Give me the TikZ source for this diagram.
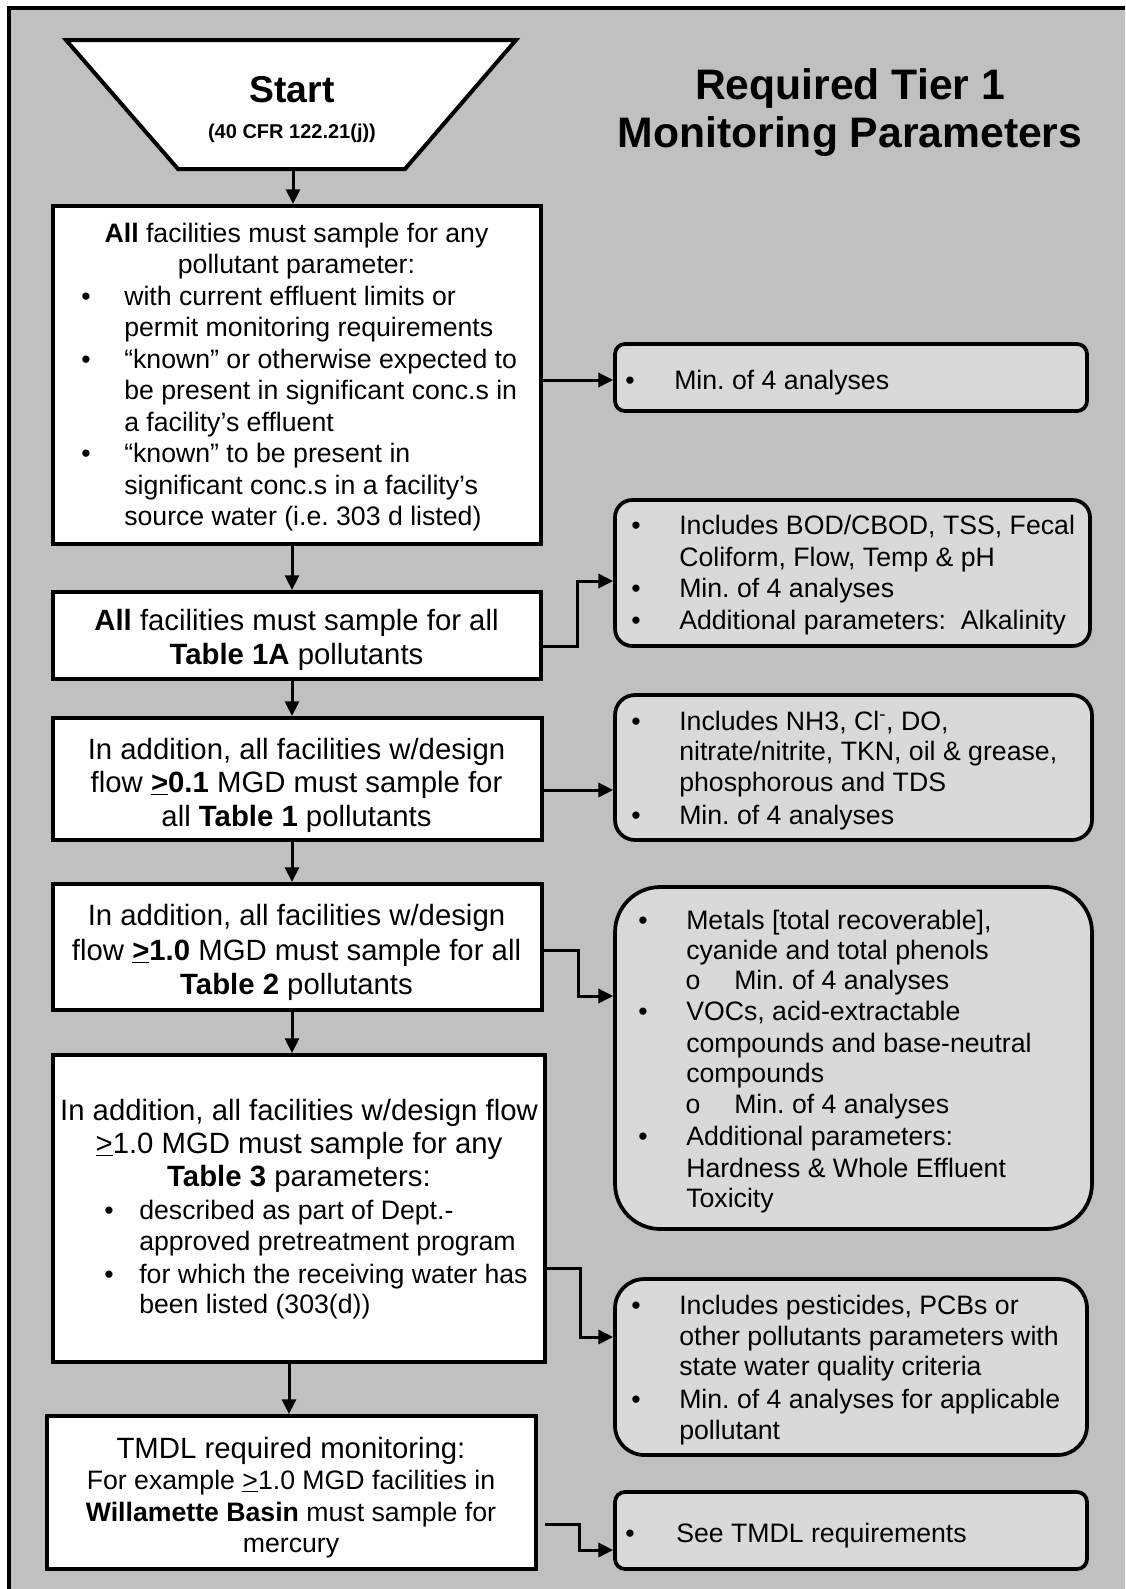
\documentclass[tikz,border=0pt]{standalone}
\usepackage{fontspec}
\setmainfont{Liberation Sans}
\usetikzlibrary{arrows.meta,fit}
\definecolor{panelgray}{RGB}{192,192,192}
\definecolor{notegray}{RGB}{217,217,217}
\frenchspacing
\tikzset{
  stepbox/.style={draw, line width=3pt, fill=white, inner sep=0pt},
  notebox/.style={draw, line width=2.8pt, fill=notegray, inner sep=0pt, rounded corners=#1},
  notebox/.default=7.5pt,
  flow/.style={line width=2.25pt, -{Triangle[length=11pt,width=10.5pt]}},
  body/.style={inner sep=0pt, font=\fontsize{20}{24}\selectfont},
  big/.style={inner sep=0pt, font=\fontsize{22}{26}\selectfont},
}
\begin{document}
\begin{tikzpicture}[x=0.75pt,y=-0.75pt]
\clip (0,0) rectangle (1125,1589);
% outer panel
\draw[line width=3pt, fill=panelgray] (9,8) rectangle (1160,1620);

% title
\node[inner sep=0pt, font=\fontsize{32}{38}\selectfont\bfseries, anchor=base] (title1) at (850,99) {Required Tier 1};
\node[inner sep=0pt, font=\fontsize{32}{38}\selectfont\bfseries, anchor=base] (title2) at (850,147) {Monitoring Parameters};

% start trapezoid
\draw[line width=3pt, fill=white, line join=miter] (66,40) -- (516,40) -- (405,169) -- (178,169) -- cycle;
\coordinate (startbot) at (293,169);
\node[inner sep=0pt, font=\fontsize{28}{32}\selectfont\bfseries, anchor=base] (starttxt) at (292,102) {Start};
\node[inner sep=0pt, font=\fontsize{15}{18}\selectfont\bfseries, anchor=base] (cfrtxt) at (292,138) {(40 CFR 122.21(j))};

% left column boxes
\node[stepbox, fit={(53,206) (541,544)}] (b1) {};
\node[stepbox, fit={(53,592) (541,679)}] (b2) {};
\node[stepbox, fit={(53,718) (542,840)}] (b3) {};
\node[stepbox, fit={(53,884) (542,1010)}] (b4) {};
\node[stepbox, fit={(53,1055) (545,1362)}] (b5) {};
\node[stepbox, fit={(47,1416) (536,1569)}] (b6) {};

% right column notes
\node[notebox, fit={(615,344) (1087,411)}] (r1) {};
\node[notebox=13pt, fit={(615,500) (1090,646)}] (r2) {};
\node[notebox=15pt, fit={(615,695) (1092,840)}] (r3) {};
\node[notebox=34pt, fit={(615,887) (1092,1229)}] (r4) {};
\node[notebox=22pt, fit={(615,1279) (1087,1455)}] (r5) {};
\node[notebox, fit={(615,1492) (1087,1569)}] (r6) {};

% box 1 text
\node[body, anchor=base] (t1a) at (296.5,242) {\textbf{All} facilities must sample for any};
\node[body, anchor=base] (t1b) at (296.5,273.5) {pollutant parameter:};
\node[body, anchor=base] (t1c0) at (86,305) {•};
\node[body, anchor=base west] (t1c) at (124,305) {with current effluent limits or};
\node[body, anchor=base west] (t1d) at (124,336.5) {permit monitoring requirements};
\node[body, anchor=base] (t1e0) at (86,368) {•};
\node[body, anchor=base west] (t1e) at (124,368) {“known” or otherwise expected to};
\node[body, anchor=base west] (t1f) at (124,399.5) {be present in significant conc.s in};
\node[body, anchor=base west] (t1g) at (124,431) {a facility’s effluent};
\node[body, anchor=base] (t1h0) at (86,462.5) {•};
\node[body, anchor=base west] (t1h) at (124,462.5) {“known” to be present in};
\node[body, anchor=base west] (t1i) at (124,494) {significant conc.s in a facility’s};
\node[body, anchor=base west] (t1j) at (124,525.5) {source water (i.e. 303 d listed)};

% box 2 text
\node[big, anchor=base] (t2a) at (296.5,630) {\textbf{All} facilities must sample for all};
\node[big, anchor=base] (t2b) at (296.5,664) {\textbf{Table 1A} pollutants};

% box 3 text
\node[big, anchor=base] (t3a) at (296.5,759.5) {In addition, all facilities w/design};
\node[big, anchor=base] (t3b) at (296.5,792.5) {flow \textbf{\underline{>}0.1} MGD must sample for};
\node[big, anchor=base] (t3c) at (296.5,826.5) {all \textbf{Table 1} pollutants};

% box 4 text
\node[big, anchor=base] (t4a) at (296.5,925.5) {In addition, all facilities w/design};
\node[big, anchor=base] (t4b) at (296.5,960.5) {flow \textbf{\underline{>}1.0} MGD must sample for all};
\node[big, anchor=base] (t4c) at (296.5,994.5) {\textbf{Table 2} pollutants};

% box 5 text
\node[big, anchor=base] (t5a) at (299,1120) {In addition, all facilities w/design flow};
\node[big, anchor=base] (t5b) at (299,1153) {\underline{>}1.0 MGD must sample for any};
\node[big, anchor=base] (t5c) at (299,1186) {\textbf{Table 3} parameters:};
\node[body, anchor=base] (t5d0) at (109,1219) {•};
\node[body, anchor=base west] (t5d) at (139,1219) {described as part of Dept.-};
\node[body, anchor=base west] (t5e) at (139,1250) {approved pretreatment program};
\node[body, anchor=base] (t5f0) at (109,1283) {•};
\node[body, anchor=base west] (t5f) at (139,1283) {for which the receiving water has};
\node[body, anchor=base west] (t5g) at (139,1313) {been listed (303(d))};

% box 6 text
\node[big, anchor=base] (t6a) at (291,1458) {TMDL required monitoring:};
\node[body, anchor=base] (t6b) at (291,1489.5) {For example \underline{>}1.0 MGD facilities in};
\node[body, anchor=base] (t6c) at (291,1521.5) {\textbf{Willamette Basin} must sample for};
\node[body, anchor=base] (t6d) at (291,1552.5) {mercury};

% note 1
\node[body, anchor=base] (n1a0) at (630,389) {•};
\node[body, anchor=base west] (n1a) at (674,389) {Min. of 4 analyses};

% note 2
\node[body, anchor=base] (n2a0) at (636,534.5) {•};
\node[body, anchor=base west] (n2a) at (679,534.5) {Includes BOD/CBOD, TSS, Fecal};
\node[body, anchor=base west] (n2b) at (679,566) {Coliform, Flow, Temp \& pH};
\node[body, anchor=base] (n2c0) at (636,597.5) {•};
\node[body, anchor=base west] (n2c) at (679,597.5) {Min. of 4 analyses};
\node[body, anchor=base] (n2d0) at (636,629.5) {•};
\node[body, anchor=base west] (n2d) at (679,629.5) {Additional parameters:\ \ Alkalinity};

% note 3
\node[body, anchor=base] (n3a0) at (636,730.5) {•};
\node[body, anchor=base west] (n3a) at (679,730.5) {Includes NH3, Cl\textsuperscript{-}, DO,};
\node[body, anchor=base west] (n3b) at (679,760.5) {nitrate/nitrite, TKN, oil \& grease,};
\node[body, anchor=base west] (n3c) at (679,791.5) {phosphorous and TDS};
\node[body, anchor=base] (n3d0) at (636,824.5) {•};
\node[body, anchor=base west] (n3d) at (679,824.5) {Min. of 4 analyses};

% note 4
\node[body, anchor=base] (n4a0) at (643,929.5) {•};
\node[body, anchor=base west] (n4a) at (686,929.5) {Metals [total recoverable],};
\node[body, anchor=base west] (n4b) at (686,959.5) {cyanide and total phenols};
\node[body, anchor=base] (n4c0) at (693,989.5) {o};
\node[body, anchor=base west] (n4c) at (734,989.5) {Min. of 4 analyses};
\node[body, anchor=base] (n4d0) at (643,1020.5) {•};
\node[body, anchor=base west] (n4d) at (686,1020.5) {VOCs, acid-extractable};
\node[body, anchor=base west] (n4e) at (686,1052.5) {compounds and base-neutral};
\node[body, anchor=base west] (n4f) at (686,1082.5) {compounds};
\node[body, anchor=base] (n4g0) at (693,1113.5) {o};
\node[body, anchor=base west] (n4g) at (734,1113.5) {Min. of 4 analyses};
\node[body, anchor=base] (n4h0) at (643,1145.5) {•};
\node[body, anchor=base west] (n4h) at (686,1145.5) {Additional parameters:};
\node[body, anchor=base west] (n4i) at (686,1177.5) {Hardness \& Whole Effluent};
\node[body, anchor=base west] (n4j) at (686,1207.5) {Toxicity};

% note 5
\node[body, anchor=base] (n5a0) at (636,1314.5) {•};
\node[body, anchor=base west] (n5a) at (679,1314.5) {Includes pesticides, PCBs or};
\node[body, anchor=base west] (n5b) at (679,1345.5) {other pollutants parameters with};
\node[body, anchor=base west] (n5c) at (679,1375.5) {state water quality criteria};
\node[body, anchor=base] (n5d0) at (636,1408.5) {•};
\node[body, anchor=base west] (n5d) at (679,1408.5) {Min. of 4 analyses for applicable};
\node[body, anchor=base west] (n5e) at (679,1439.5) {pollutant};

% note 6
\node[body, anchor=base] (n6a0) at (630,1542) {•};
\node[body, anchor=base west] (n6a) at (676,1542) {See TMDL requirements};

% main flow
\coordinate (col) at (292,0);
\coordinate (col6) at (289,0);
\draw[flow] (startbot) -- (startbot |- b1.north);
\draw[flow] (col |- b1.south) -- (col |- b2.north);
\draw[flow] (col |- b2.south) -- (col |- b3.north);
\draw[flow] (col |- b3.south) -- (col |- b4.north);
\draw[flow] (col |- b4.south) -- (col |- b5.north);
\draw[flow] (col6 |- b5.south) -- (col6 |- b6.north);

% side links
\coordinate (e1) at (0,380);
\draw[flow] (b1.east |- e1) -- (r1.west |- e1);
\coordinate (e2) at (0,646);
\coordinate (k2) at (577,581);
\draw[flow] (b2.east |- e2) -| (k2) -- (r2.west |- k2);
\coordinate (e3) at (0,790);
\draw[flow] (b3.east |- e3) -- (r3.west |- e3);
\coordinate (e4) at (0,950);
\coordinate (k4) at (578,996);
\draw[flow] (b4.east |- e4) -| (k4) -- (r4.west |- k4);
\coordinate (e5) at (0,1268);
\coordinate (k5) at (580,1337);
\draw[flow] (b5.east |- e5) -| (k5) -- (r5.west |- k5);
\coordinate (e6) at (0,1524);
\coordinate (k6) at (579,1550);
\draw[flow] ([xshift=5pt]b6.east |- e6) -| (k6) -- (r6.west |- k6);
\end{tikzpicture}
\end{document}
